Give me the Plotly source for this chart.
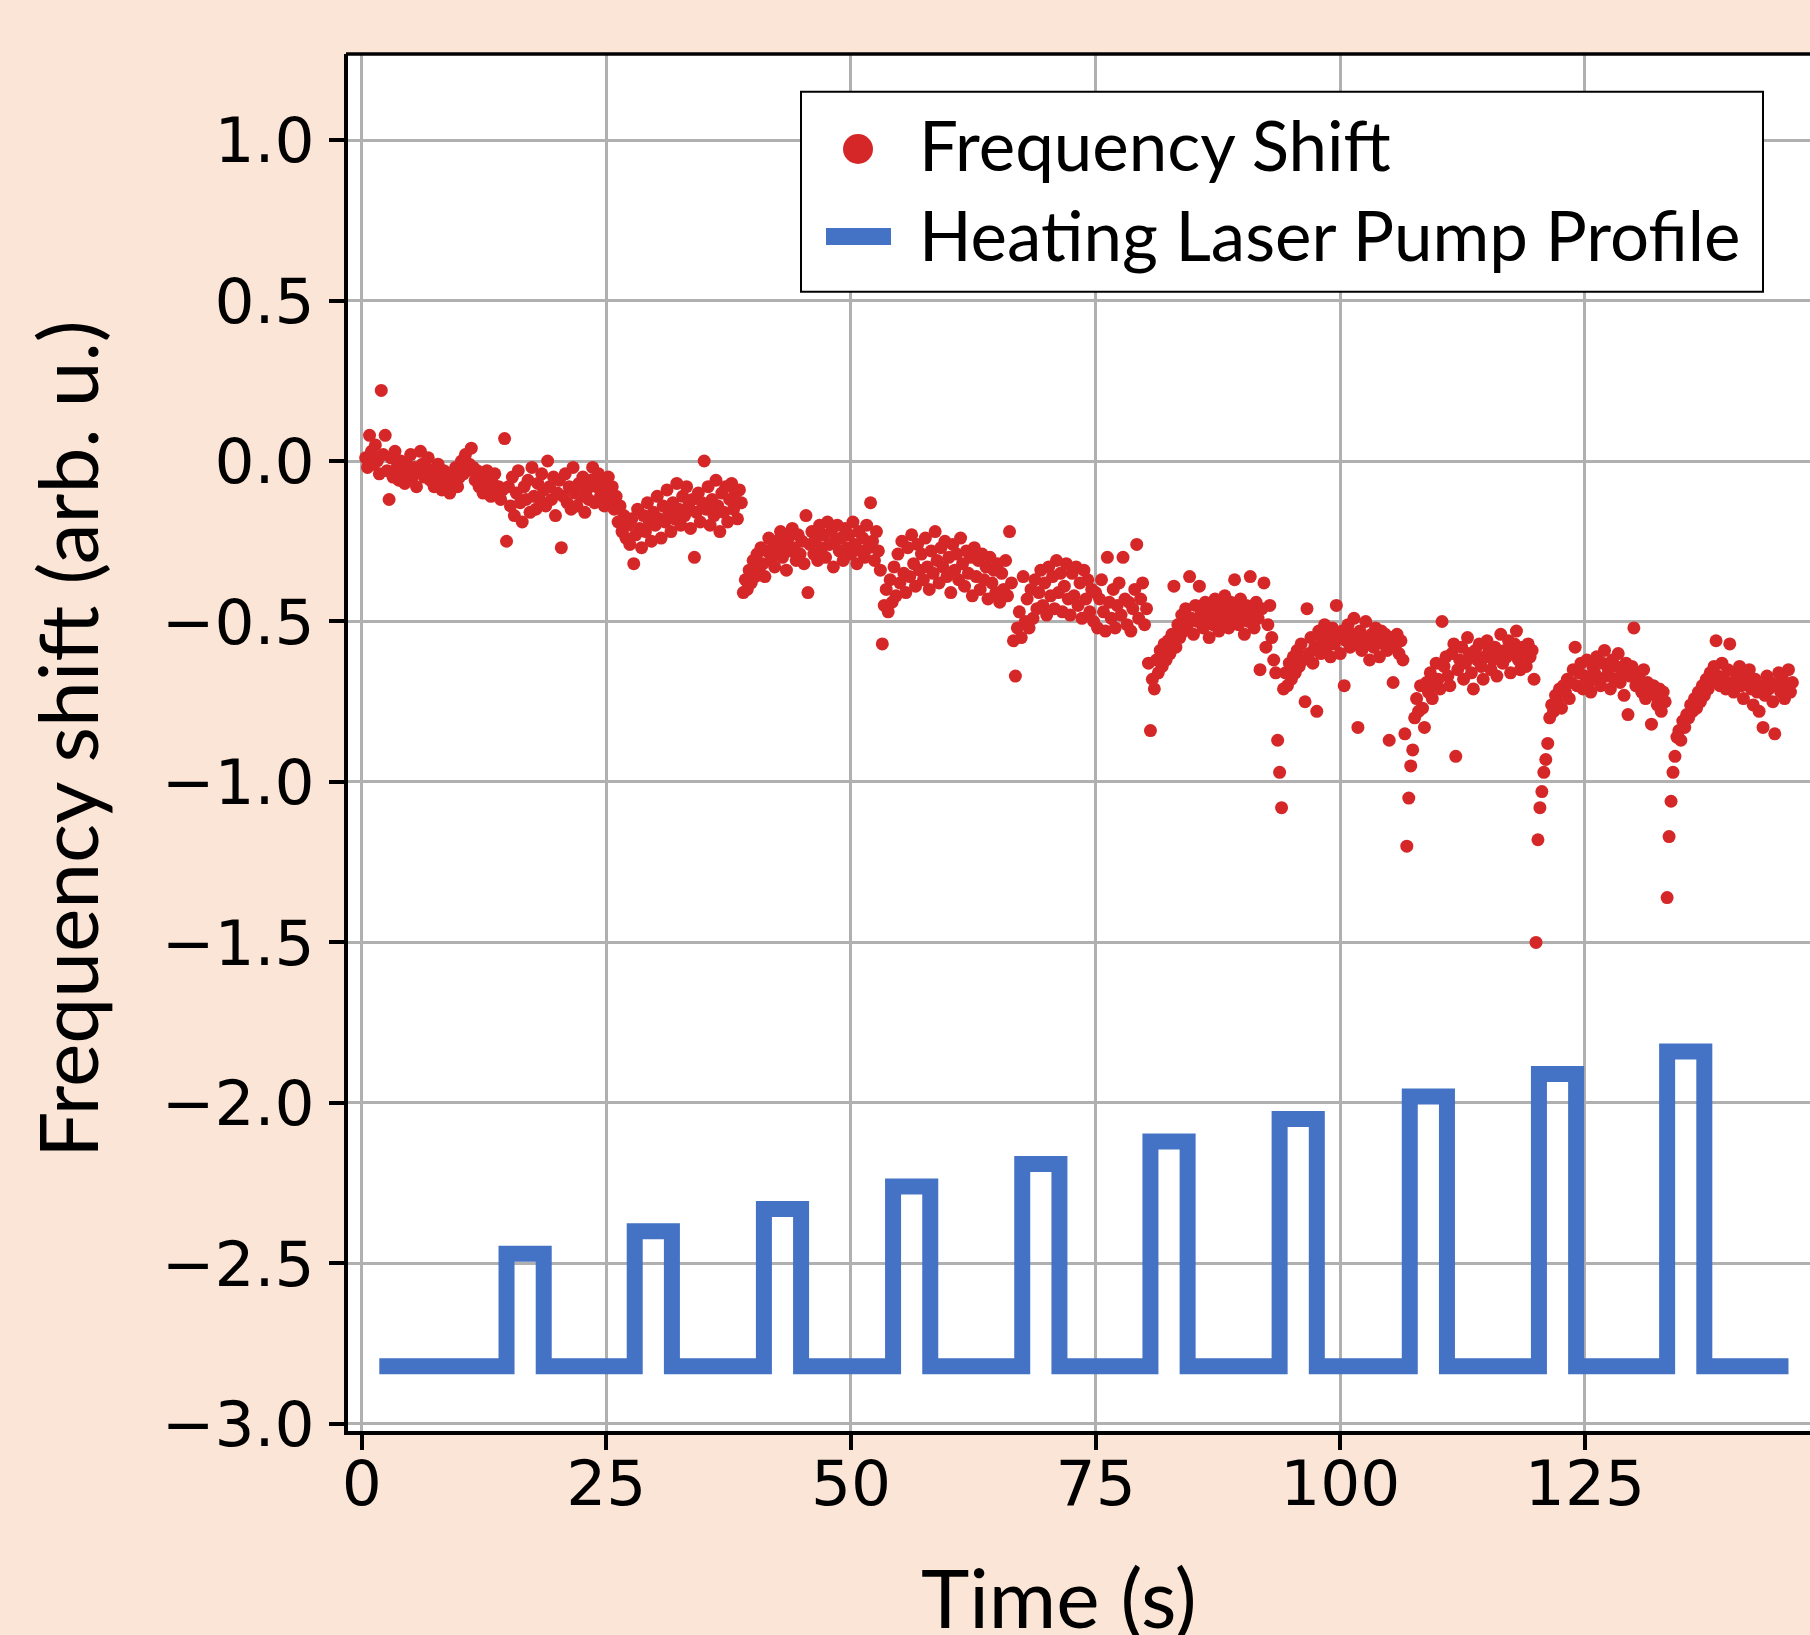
import numpy as np
import plotly.graph_objects as go

# ---------------- data ----------------
T_START = 0.4   # first sample time (s)
DT = 0.2        # sample spacing (s)

seg0 = [0.01, -0.02, 0.08, 0.03, -0.01, 0.05, 0.00, -0.04, 0.22, 0.02,
        0.08, -0.03, -0.12, 0.01, -0.05, 0.03, -0.02, -0.06, 0.00, -0.03,
        -0.07, -0.01, -0.04, 0.02, -0.05, -0.02, -0.08, -0.03, 0.03, -0.01,
        -0.05, -0.02, 0.01, -0.06, -0.03, -0.08, -0.04, -0.01, -0.06, -0.09,
        -0.03, -0.07, -0.05, -0.10, -0.04, -0.07, -0.02, -0.08, -0.05, 0.00,
        -0.04, 0.02, -0.03, -0.01, 0.04, -0.02, -0.06, -0.03, -0.08, -0.05,
        -0.10, -0.06, -0.03, -0.09, -0.11, -0.07, -0.04, -0.10, -0.08, -0.12,
        -0.09, 0.07]
seg1 = [-0.25, -0.08, -0.14, -0.05, -0.17, -0.10, -0.03, -0.13, -0.19, -0.08,
        -0.12, -0.06, -0.16, -0.02, -0.11, -0.15, -0.07, -0.12, -0.04, -0.09,
        -0.14, 0.00, -0.08, -0.12, -0.05, -0.17, -0.10, -0.06, -0.27, -0.11,
        -0.04, -0.13, -0.08, -0.15, -0.02, -0.10, -0.14, -0.07, -0.11, -0.05,
        -0.16, -0.09, -0.12, -0.06, -0.02, -0.13, -0.08, -0.04, -0.11, -0.07,
        -0.14, -0.09, -0.05, -0.12, -0.08, -0.15, -0.11, -0.19, -0.14, -0.22,
        -0.17, -0.24]
seg2 = [-0.20, -0.26, -0.18, -0.32, -0.23, -0.15, -0.21, -0.27, -0.17, -0.22,
        -0.13, -0.19, -0.25, -0.16, -0.20, -0.11, -0.18, -0.24, -0.14, -0.19,
        -0.09, -0.16, -0.22, -0.13, -0.18, -0.07, -0.15, -0.20, -0.11, -0.17,
        -0.08, -0.14, -0.21, -0.12, -0.30, -0.16, -0.10, -0.19, -0.13, 0.00,
        -0.15, -0.08, -0.20, -0.12, -0.17, -0.06, -0.14, -0.22, -0.10, -0.16,
        -0.08, -0.19, -0.12, -0.07, -0.15, -0.10, -0.18, -0.09, -0.13]
seg3 = [-0.41, -0.37, -0.40, -0.34, -0.38, -0.31, -0.36, -0.29, -0.34, -0.27,
        -0.32, -0.36, -0.28, -0.24, -0.31, -0.27, -0.33, -0.25, -0.29, -0.22,
        -0.30, -0.26, -0.34, -0.24, -0.28, -0.21, -0.27, -0.31, -0.23, -0.29,
        -0.25, -0.32, -0.17, -0.41, -0.26, -0.22, -0.29, -0.24, -0.31, -0.20,
        -0.27, -0.23, -0.30, -0.19, -0.26, -0.22, -0.33, -0.25, -0.20, -0.28,
        -0.24, -0.31, -0.21, -0.27, -0.23, -0.29, -0.19, -0.26, -0.32, -0.22,
        -0.28, -0.24, -0.30, -0.20, -0.27, -0.13, -0.25, -0.31, -0.22, -0.28,
        -0.34, -0.57]
seg4 = [-0.45, -0.40, -0.47, -0.37, -0.44, -0.33, -0.42, -0.29, -0.38, -0.25,
        -0.35, -0.41, -0.27, -0.36, -0.23, -0.32, -0.39, -0.26, -0.34, -0.29,
        -0.37, -0.24, -0.33, -0.40, -0.28, -0.35, -0.22, -0.31, -0.38, -0.27,
        -0.33, -0.25, -0.36, -0.30, -0.41, -0.26, -0.34, -0.29, -0.37, -0.24,
        -0.32, -0.39, -0.28, -0.35, -0.30, -0.42, -0.27, -0.36, -0.31, -0.40,
        -0.29, -0.37, -0.33, -0.43, -0.30, -0.38, -0.34, -0.41, -0.32, -0.44,
        -0.35, -0.40, -0.31, -0.42, -0.22, -0.38]
seg5 = [-0.56, -0.67, -0.52, -0.47, -0.55, -0.36, -0.50, -0.43, -0.52, -0.40,
        -0.49, -0.37, -0.46, -0.41, -0.34, -0.45, -0.38, -0.48, -0.33, -0.42,
        -0.36, -0.46, -0.31, -0.41, -0.35, -0.47, -0.39, -0.32, -0.43, -0.48,
        -0.35, -0.42, -0.33, -0.45, -0.38, -0.49, -0.34, -0.43, -0.37, -0.47,
        -0.40, -0.50, -0.41, -0.52, -0.43, -0.37, -0.47, -0.53, -0.30, -0.44,
        -0.49, -0.40, -0.52, -0.45, -0.38, -0.48, -0.30, -0.43, -0.51, -0.44,
        -0.53, -0.46, -0.40, -0.26, -0.49, -0.43, -0.38, -0.51, -0.46]
seg6 = [-0.63, -0.84, -0.68, -0.71, -0.62, -0.66, -0.59, -0.64, -0.57, -0.62,
        -0.56, -0.60, -0.54, -0.39, -0.58, -0.51, -0.55, -0.48, -0.53, -0.46,
        -0.51, -0.36, -0.49, -0.54, -0.45, -0.50, -0.39, -0.47, -0.52, -0.44,
        -0.49, -0.55, -0.46, -0.51, -0.43, -0.48, -0.53, -0.45, -0.50, -0.42,
        -0.47, -0.52, -0.44, -0.49, -0.37, -0.46, -0.51, -0.43, -0.48, -0.54,
        -0.45, -0.50, -0.36, -0.47, -0.52, -0.44, -0.49, -0.65, -0.46, -0.38,
        -0.58, -0.51, -0.45, -0.55, -0.62, -0.66]
seg7 = [-0.87, -0.97, -1.08, -0.71, -0.66, -0.70, -0.63, -0.68, -0.61, -0.66,
        -0.59, -0.64, -0.57, -0.62, -0.75, -0.46, -0.60, -0.55, -0.63, -0.58,
        -0.78, -0.53, -0.60, -0.56, -0.51, -0.58, -0.54, -0.61, -0.52, -0.57,
        -0.45, -0.55, -0.60, -0.53, -0.70, -0.56, -0.51, -0.58, -0.54, -0.49,
        -0.57, -0.83, -0.53, -0.59, -0.55, -0.50, -0.57, -0.62, -0.54, -0.58,
        -0.52, -0.56, -0.61, -0.53, -0.57, -0.54, -0.59, -0.87, -0.55, -0.69,
        -0.58, -0.54, -0.60, -0.56, -0.62, -0.85]
seg8 = [-1.20, -1.05, -0.95, -0.90, -0.80, -0.74, -0.78, -0.70, -0.77, -0.83,
        -0.69, -0.72, -0.66, -0.74, -0.70, -0.63, -0.68, -0.71, -0.50, -0.64,
        -0.61, -0.67, -0.70, -0.60, -0.57, -0.92, -0.65, -0.62, -0.58, -0.68,
        -0.63, -0.55, -0.60, -0.66, -0.71, -0.59, -0.62, -0.57, -0.64, -0.68,
        -0.61, -0.56, -0.59, -0.65, -0.62, -0.58, -0.67, -0.60, -0.54, -0.63,
        -0.59, -0.61, -0.56, -0.66, -0.60, -0.57, -0.53, -0.62, -0.65, -0.58,
        -0.60, -0.64, -0.57, -0.61, -0.59, -0.68]
seg9 = [-1.50, -1.18, -1.08, -1.03, -0.97, -0.93, -0.88, -0.80, -0.76, -0.78,
        -0.73, -0.75, -0.71, -0.77, -0.70, -0.72, -0.68, -0.74, -0.69, -0.65,
        -0.58, -0.70, -0.66, -0.63, -0.71, -0.67, -0.62, -0.69, -0.72, -0.64,
        -0.66, -0.61, -0.68, -0.70, -0.63, -0.59, -0.67, -0.65, -0.71, -0.62,
        -0.68, -0.64, -0.60, -0.69, -0.66, -0.73, -0.63, -0.79, -0.67, -0.64,
        -0.52, -0.70, -0.66, -0.68, -0.72, -0.65, -0.74, -0.69, -0.71, -0.82,
        -0.70, -0.73, -0.76, -0.71, -0.78, -0.72, -0.75]
seg10 = [-1.36, -1.17, -1.06, -0.97, -0.92, -0.86, -0.84, -0.87, -0.81, -0.83,
         -0.79, -0.80, -0.76, -0.78, -0.74, -0.77, -0.72, -0.75, -0.70, -0.73,
         -0.68, -0.71, -0.66, -0.69, -0.64, -0.56, -0.67, -0.70, -0.63, -0.68,
         -0.71, -0.65, -0.57, -0.69, -0.72, -0.66, -0.68, -0.64, -0.70, -0.74,
         -0.67, -0.69, -0.65, -0.71, -0.76, -0.68, -0.72, -0.78, -0.70, -0.83,
         -0.73, -0.67, -0.71, -0.69, -0.75, -0.85, -0.70, -0.66, -0.72, -0.68,
         -0.74, -0.70, -0.65, -0.72, -0.69]

freq_shift = (seg0 + seg1 + seg2 + seg3 + seg4 + seg5 + seg6 + seg7
              + seg8 + seg9 + seg10)
time_s = np.round(T_START + DT * np.arange(len(freq_shift)), 1)

# heating laser pump profile (step waveform)
pump_baseline = -2.82
pump_t_begin = 1.8
pump_t_end = 145.8
pulse_on = [14.8, 27.9, 41.1, 54.3, 67.5, 80.6, 93.8, 107.1, 120.3, 133.4]
pulse_off = [18.6, 31.7, 44.9, 58.1, 71.3, 84.4, 97.6, 110.9, 124.1, 137.2]
pulse_level = [-2.47, -2.40, -2.33, -2.26, -2.19, -2.12, -2.05, -1.98, -1.91, -1.84]

x_ticks = [0, 25, 50, 75, 100, 125]
x_tick_text = ["0", "25", "50", "75", "100", "125"]
y_ticks = [1.0, 0.5, 0.0, -0.5, -1.0, -1.5, -2.0, -2.5, -3.0]
y_tick_text = ["1.0", "0.5", "0.0", "\u22120.5", "\u22121.0", "\u22121.5",
               "\u22122.0", "\u22122.5", "\u22123.0"]

series_names = ["Frequency Shift", "Heating Laser Pump Profile"]

# ---------------- build step trace ----------------
pump_t = [pump_t_begin]
pump_y = [pump_baseline]
for on, off, lvl in zip(pulse_on, pulse_off, pulse_level):
    pump_t += [on, off]
    pump_y += [lvl, pump_baseline]
pump_t.append(pump_t_end)
pump_y.append(pump_baseline)

RED = "#d62728"
BLUE = "#4472C4"
BG = "#FBE5D6"

W, H = 1810, 1635
L, R, T, B = 348, 0, 54, 204
PW, PH = W - L - R, H - T - B


def px(xpix):
    return (xpix - L) / PW


def py(ypix):
    return (H - B - ypix) / PH


fig = go.Figure()
fig.add_trace(go.Scatter(
    x=time_s, y=freq_shift, mode="markers", name=series_names[0],
    marker=dict(color=RED, size=13, line=dict(width=0)), showlegend=False))
fig.add_trace(go.Scatter(
    x=pump_t, y=pump_y, mode="lines", line_shape="hv", name=series_names[1],
    line=dict(color=BLUE, width=16), showlegend=False))

tick_font = dict(family="DejaVu Sans", size=63, color="black")
title_font = dict(family="Lato", size=82, color="black")
leg_font = dict(family="Lato", size=69, color="black")

fig.update_layout(
    width=W, height=H,
    margin=dict(l=L, r=R, t=T, b=B, pad=0),
    paper_bgcolor=BG, plot_bgcolor="white",
    showlegend=False,
    xaxis=dict(range=[-1.40, 148.0], tickvals=x_ticks, ticktext=x_tick_text,
               showgrid=True, gridcolor="#b0b0b0", gridwidth=3,
               zeroline=False, showline=True, linecolor="black", linewidth=3.5,
               ticks="outside", ticklen=15, tickwidth=3.5, tickcolor="black",
               tickfont=tick_font, ticklabelstandoff=-20),
    yaxis=dict(range=[-3.022, 1.268], tickvals=y_ticks, ticktext=y_tick_text,
               showgrid=True, gridcolor="#b0b0b0", gridwidth=3,
               zeroline=False, showline=True, linecolor="black", linewidth=3.5,
               ticks="outside", ticklen=15, tickwidth=3.5, tickcolor="black",
               tickfont=tick_font, ticklabelstandoff=2),
)

shapes = [
    # top frame line
    dict(type="line", xref="paper", yref="paper", x0=px(346), x1=1, y0=1, y1=1,
         line=dict(color="black", width=3.5)),
    # legend box
    dict(type="rect", xref="paper", yref="paper",
         x0=px(801), x1=px(1763), y0=py(291.7), y1=py(91.7),
         fillcolor="white", line=dict(color="black", width=2)),
    # legend marker
    dict(type="circle", xref="paper", yref="paper",
         x0=px(843), x1=px(873), y0=py(164), y1=py(134),
         fillcolor=RED, line=dict(width=0)),
    # legend line
    dict(type="rect", xref="paper", yref="paper",
         x0=px(826), x1=px(891), y0=py(245), y1=py(228),
         fillcolor=BLUE, line=dict(width=0)),
]
fig.update_layout(shapes=shapes)

annotations = [
    dict(text=series_names[0], xref="paper", yref="paper", x=px(917), y=py(144),
         xanchor="left", yanchor="middle", showarrow=False, font=leg_font),
    dict(text=series_names[1], xref="paper", yref="paper", x=px(917), y=py(235),
         xanchor="left", yanchor="middle", showarrow=False, font=leg_font),
    dict(text="Time (s)", xref="paper", yref="paper", x=px(1059), y=py(1596),
         xanchor="center", yanchor="middle", showarrow=False, font=title_font),
    dict(text="Frequency shift (arb. u.)", xref="paper", yref="paper",
         x=px(66), y=py(739), xanchor="center", yanchor="middle",
         textangle=-90, showarrow=False, font=title_font),
]
fig.update_layout(annotations=annotations)

fig.write_html(
    "out.html",
    config={"displayModeBar": False},
    post_script="document.body.style.margin='0px';"
                "document.body.style.background='#FBE5D6';",
)
